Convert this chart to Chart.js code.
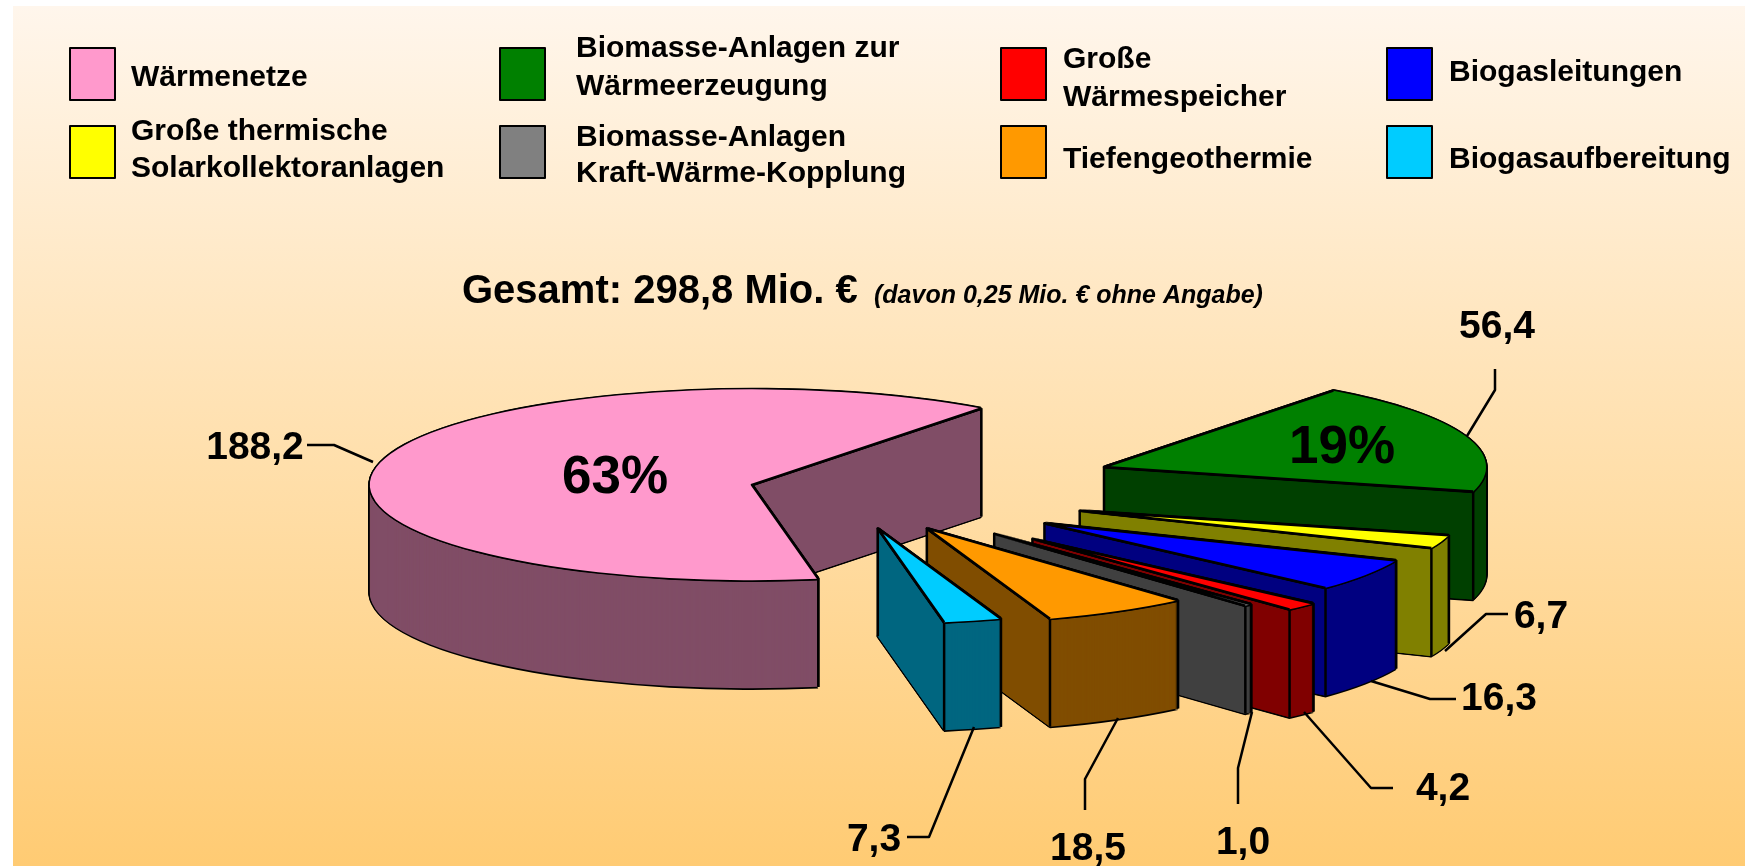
<!DOCTYPE html>
<html>
<head>
<meta charset="utf-8">
<title>Gesamt 298,8 Mio. €</title>
<script src="https://cdn.jsdelivr.net/npm/chart.js@4"></script>
<style>
  html, body { margin: 0; padding: 0; background: #fff; overflow: hidden; }
  #bg { position: absolute; left: 13px; top: 6px; width: 1732px; height: 860px;
        background: linear-gradient(#fff6ec, #ffcb73); }
  #pie { position: absolute; left: 0; top: 0; }
</style>
</head>
<body>
<div id="bg"></div>
<canvas id="pie" width="1745" height="866"></canvas>
<script>
// data, clockwise starting at the pink slice
const categories = ['Wärmenetze', 'Biomasse-Anlagen zur Wärmeerzeugung', 'Große thermische Solarkollektoranlagen',
  'Biogasleitungen', 'Große Wärmespeicher', 'Biomasse-Anlagen Kraft-Wärme-Kopplung', 'Tiefengeothermie', 'Biogasaufbereitung'];
const values = [188.2, 56.4, 6.7, 16.3, 4.2, 1.0, 18.5, 7.3];
const valueLabels = ['188,2', '56,4', '6,7', '16,3', '4,2', '1,0', '18,5', '7,3'];
const topColors = ['#ff99cc', '#008000', '#ffff00', '#0000ff', '#ff0000', '#808080', '#ff9900', '#00ccff'];
const wallColors = ['#804d66', '#004000', '#808000', '#000080', '#800000', '#404040', '#804d00', '#006680'];

// how far each slice is pulled out of the pie
const explode = [89, 281, 255, 245, 275, 234, 177, 158];
const tilt = 0.25;
const depth = 108;

// value label position and its leader line
const labelSpots = [[255, 448], [1497, 327], [1541, 617], [1499, 699], [1443, 789], [1243, 843], [1088, 849], [874, 840]];
const leaders = [
  [[307, 445], [334, 445], [373, 462]],
  [[1495, 369], [1495, 390], [1467, 436]],
  [[1508, 614], [1486, 614], [1445, 651]],
  [[1456, 699], [1430, 699], [1371, 681]],
  [[1393, 788], [1371, 788], [1304, 712]],
  [[1238, 804], [1238, 768], [1252, 712]],
  [[1085, 810], [1085, 779], [1118, 718]],
  [[907, 837], [929, 837], [974, 727]]
];

// legend: slice index, swatch box, text x, then [line, y] pairs
const legendItems = [
  [0, 70, 48, 131, [['Wärmenetze', 78]]],
  [2, 70, 126, 131, [['Große thermische', 132], ['Solarkollektoranlagen', 169]]],
  [1, 500, 48, 576, [['Biomasse-Anlagen zur', 49], ['Wärmeerzeugung', 87]]],
  [5, 500, 126, 576, [['Biomasse-Anlagen', 138], ['Kraft-Wärme-Kopplung', 174]]],
  [4, 1001, 48, 1063, [['Große', 60], ['Wärmespeicher', 98]]],
  [6, 1001, 126, 1063, [['Tiefengeothermie', 160]]],
  [3, 1387, 48, 1449, [['Biogasleitungen', 73]]],
  [7, 1387, 126, 1449, [['Biogasaufbereitung', 160]]]
];

const percentLabels = [['63%', 615, 478], ['19%', 1342, 448]];
const FONT = '"Liberation Sans", Arial, sans-serif';

function sliceOrigin(arc, i) {
  const mid = (arc.startAngle + arc.endAngle) / 2;
  return [arc.x + Math.cos(mid) * explode[i], arc.y + Math.sin(mid) * explode[i] * tilt];
}

function paintArc(ctx, arc, i, color, dx, dy) {
  const o = sliceOrigin(arc, i);
  const orig = arc.options;
  arc.options = Object.assign(Object.create(orig), { backgroundColor: color, borderWidth: 0 });
  ctx.save();
  ctx.translate(o[0] + dx, o[1] + dy);
  ctx.scale(1, tilt);
  ctx.translate(-arc.x, -arc.y);
  arc.draw(ctx);
  ctx.restore();
  arc.options = orig;
}

function rimPoint(arc, i, angle) {
  const o = sliceOrigin(arc, i);
  return [o[0] + Math.cos(angle) * arc.outerRadius, o[1] + Math.sin(angle) * arc.outerRadius * tilt];
}

// the two straight edges of a slice, so thin slices keep a solid outline
function radialLines(ctx, arc, i, dy) {
  const o = sliceOrigin(arc, i);
  const a = rimPoint(arc, i, arc.startAngle);
  const b = rimPoint(arc, i, arc.endAngle);
  ctx.strokeStyle = '#000';
  ctx.lineWidth = 2.5;
  ctx.lineJoin = 'round';
  ctx.beginPath();
  ctx.moveTo(a[0], a[1] + dy);
  ctx.lineTo(o[0], o[1] + dy);
  ctx.lineTo(b[0], b[1] + dy);
  ctx.stroke();
}

// flat cut face; stacked arcs alone wash out where a slice is thinner than a pixel
function cutFace(ctx, arc, i, angle) {
  const o = sliceOrigin(arc, i);
  const p = rimPoint(arc, i, angle);
  ctx.fillStyle = wallColors[i];
  ctx.beginPath();
  ctx.moveTo(o[0], o[1]);
  ctx.lineTo(p[0], p[1]);
  ctx.lineTo(p[0], p[1] + depth);
  ctx.lineTo(o[0], o[1] + depth);
  ctx.closePath();
  ctx.fill();
}

function edgeLines(ctx, arc, i) {
  const a = arc.startAngle, b = arc.endAngle;
  const startFace = Math.cos(a) < 0;
  const endFace = Math.cos(b) > 0;
  const pts = [];
  if (b - a < Math.PI && (startFace || endFace)) pts.push(sliceOrigin(arc, i));
  if (startFace || Math.sin(a) > 0) pts.push(rimPoint(arc, i, a));
  if (endFace || Math.sin(b) > 0) pts.push(rimPoint(arc, i, b));
  if (startFace) cutFace(ctx, arc, i, a);
  if (endFace) cutFace(ctx, arc, i, b);
  ctx.strokeStyle = '#000';
  ctx.lineWidth = 2.5;
  pts.forEach(p => {
    ctx.beginPath();
    ctx.moveTo(p[0], p[1]);
    ctx.lineTo(p[0], p[1] + depth);
    ctx.stroke();
  });
}

const pie3d = {
  id: 'pie3d',
  beforeDatasetsDraw(chart) {
    const ctx = chart.ctx;
    chart.getDatasetMeta(0).data.forEach((arc, i) => {
      // black silhouette of the whole block
      for (let d = depth; d >= 0; d -= 1) {
        paintArc(ctx, arc, i, '#000', -1.6, d);
        paintArc(ctx, arc, i, '#000', 1.6, d);
      }
      paintArc(ctx, arc, i, '#000', 0, depth + 1.6);
      radialLines(ctx, arc, i, depth);
      for (let d = depth; d >= 0; d -= 1) paintArc(ctx, arc, i, wallColors[i], 0, d);
      edgeLines(ctx, arc, i);
      // top face with outline
      [[-1.6, 0], [1.6, 0], [0, -1.6], [0, 1.6], [-1.1, -1.1], [1.1, -1.1], [-1.1, 1.1], [1.1, 1.1]].forEach(s => {
        paintArc(ctx, arc, i, '#000', s[0], s[1]);
      });
      paintArc(ctx, arc, i, topColors[i], 0, 0);
      radialLines(ctx, arc, i, 0);
    });
    return false;
  },
  afterDraw(chart) {
    const ctx = chart.ctx;
    ctx.save();
    ctx.textBaseline = 'middle';

    // legend
    legendItems.forEach(item => {
      ctx.fillStyle = topColors[item[0]];
      ctx.strokeStyle = '#000';
      ctx.lineWidth = 2;
      ctx.fillRect(item[1], item[2], 45, 52);
      ctx.strokeRect(item[1], item[2], 45, 52);
      ctx.fillStyle = '#000';
      ctx.textAlign = 'left';
      ctx.font = 'bold 30px ' + FONT;
      item[4].forEach(line => ctx.fillText(line[0], item[3], line[1]));
    });

    // title
    ctx.textAlign = 'left';
    ctx.textBaseline = 'alphabetic';
    ctx.font = 'bold 40px ' + FONT;
    ctx.fillText('Gesamt: 298,8 Mio. €', 462, 303);
    ctx.font = 'italic bold 25px ' + FONT;
    ctx.fillText('(davon 0,25 Mio. € ohne Angabe)', 874, 303);
    ctx.textBaseline = 'middle';

    // leaders and value labels
    ctx.strokeStyle = '#000';
    ctx.lineWidth = 2.5;
    leaders.forEach(line => {
      ctx.beginPath();
      line.forEach((p, n) => n ? ctx.lineTo(p[0], p[1]) : ctx.moveTo(p[0], p[1]));
      ctx.stroke();
    });
    ctx.textAlign = 'center';
    ctx.font = 'bold 39px ' + FONT;
    valueLabels.forEach((t, i) => ctx.fillText(t, labelSpots[i][0], labelSpots[i][1]));

    ctx.font = 'bold 53px ' + FONT;
    percentLabels.forEach(p => ctx.fillText(p[0], p[1], p[2]));
    ctx.restore();
  }
};

new Chart(document.getElementById('pie'), {
  type: 'pie',
  data: {
    labels: categories,
    datasets: [{ data: values, backgroundColor: topColors, borderWidth: 0 }]
  },
  options: {
    responsive: false,
    animation: false,
    rotation: 170,
    radius: 382,
    layout: { padding: { left: 0, right: 68, top: 114, bottom: 0 } },
    plugins: { legend: { display: false }, tooltip: { enabled: false } }
  },
  plugins: [pie3d]
});
</script>
</body>
</html>
